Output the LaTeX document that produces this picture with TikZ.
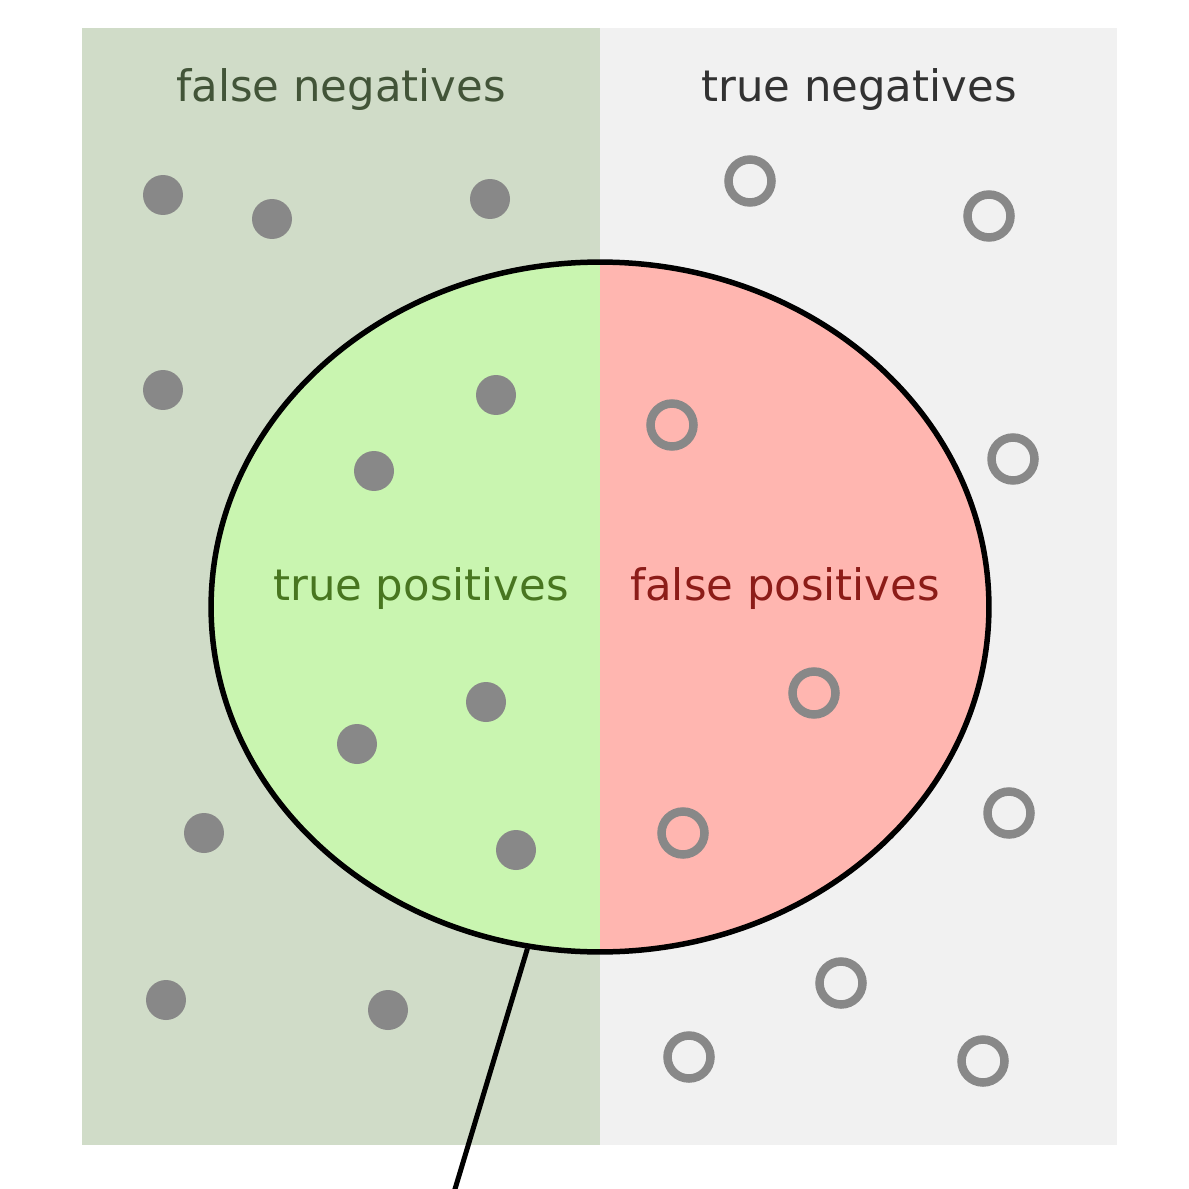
\documentclass[tikz,border=0pt]{standalone}
\usepackage{fontspec}
\setmainfont{DejaVu Sans}
\usetikzlibrary{shapes.geometric}
\definecolor{fn_bg}{RGB}{208,220,200}
\definecolor{tn_bg}{RGB}{241,241,241}
\definecolor{tp_fill}{RGB}{201,245,176}
\definecolor{fp_fill}{RGB}{255,182,176}
\definecolor{dot_gray}{RGB}{136,136,136}
\definecolor{fn_text}{RGB}{66,84,56}
\definecolor{tn_text}{RGB}{50,50,50}
\definecolor{tp_text}{RGB}{72,118,32}
\definecolor{fp_text}{RGB}{140,28,24}

\begin{document}
\begin{tikzpicture}[x=0.02cm, y=-0.02cm,
    fulldot/.style={circle, fill=dot_gray, minimum size=0.8cm, inner sep=0pt},
    emptydot/.style={circle, draw=dot_gray, line width=0.17cm, minimum size=0.86cm, inner sep=0pt},
    label_text/.style={font=\fontsize{24.7}{29}\selectfont, inner sep=0pt}]

    \useasboundingbox (0,0) rectangle (1189,1189);

    % --- Begin Background ---
    \fill[fn_bg] (82,28) rectangle (600,1145);
    \fill[tn_bg] (600,28) rectangle (1117,1145);
    \node [label_text, text=fn_text] (FalseNeg) at (341,90) {false negatives};
    \node [label_text, text=tn_text] (TrueNeg) at (859,90) {true negatives};
    % --- End Background ---

    % --- Begin Selected Node ---
    \node [ellipse, draw, line width=0.11cm, minimum width=15.56cm, minimum height=13.8cm, inner sep=0pt,
        path picture={
            \fill[tp_fill] (path picture bounding box.south west) rectangle (path picture bounding box.north);
            \fill[fp_fill] (path picture bounding box.south east) rectangle (path picture bounding box.north);
        }] (Selected) at (600,607) {};
    \node [label_text, text=tp_text] (TruePos) at (421,589) {true positives};
    \node [label_text, text=fp_text] (FalsePos) at (785,589) {false positives};
    % --- End Selected Node ---

    % Relevant elements (left side).
    \foreach \px/\py [count=\i] in {163/195, 272/219, 490/199, 163/390, 496/395, 374/471,
        486/702, 357/744, 204/833, 516/850, 166/1000, 388/1010}
        \node [fulldot] (relevant_\i) at (\px,\py) {};

    % Not relevant elements (right side).
    \foreach \px/\py [count=\i] in {750/181, 989/216, 672/425, 1013/459, 814/693,
        1009/813, 683/833, 841/983, 689/1057, 983/1061}
        \node [emptydot] (irrelevant_\i) at (\px,\py) {};

    % Pointer out of the selected elements.
    \coordinate (pointer_end) at (452,1199);
    \draw [line width=0.1cm] (Selected.258.5) -- (pointer_end);

\end{tikzpicture}
\end{document}
